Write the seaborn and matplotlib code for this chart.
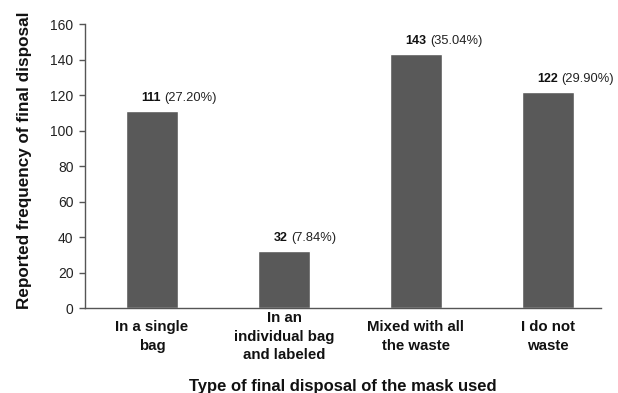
import matplotlib
matplotlib.use("Agg")
import matplotlib.pyplot as plt
import seaborn as sns
import pandas as pd
from matplotlib import font_manager

categories = ["In a single\nbag", "In an\nindividual bag\nand labeled",
              "Mixed with all\nthe waste", "I do not\nwaste"]
counts = [111, 32, 143, 122]
percents = ["27.20%", "7.84%", "35.04%", "29.90%"]
y_ticks = [0, 20, 40, 60, 80, 100, 120, 140, 160]

sns.set_theme(style="white")
names = {f.name for f in font_manager.fontManager.ttflist}
narrow = "Liberation Sans Narrow" if "Liberation Sans Narrow" in names else "Liberation Sans"
plt.rcParams["font.family"] = ["Liberation Sans", "DejaVu Sans"]

df = pd.DataFrame({"category": categories, "count": counts})

fig = plt.figure(figsize=(6.18, 3.93), dpi=100)
ax = fig.add_axes([0.137, 0.216, 0.835, 0.7226])

sns.barplot(data=df, x="category", y="count", color="#595959",
            saturation=1, width=0.395, ax=ax)

ax.set_ylim(0, 160)
ax.set_xlim(-0.51, 3.4)
ax.set_yticks(y_ticks)
ax.set_yticklabels([str(t) for t in y_ticks], fontfamily=narrow, fontsize=10,
                   color="#222222")

for spine in ["top", "right"]:
    ax.spines[spine].set_visible(False)
for spine in ["left", "bottom"]:
    ax.spines[spine].set_color("#555555")
    ax.spines[spine].set_linewidth(1.0)

ax.tick_params(axis="y", which="major", left=True, length=4, width=1,
               color="#555555", pad=4)
ax.tick_params(axis="x", length=0, pad=20.5)
for lbl in ax.get_xticklabels():
    lbl.set_fontweight("bold")
    lbl.set_fontsize(10.8)
    lbl.set_verticalalignment("center")
    lbl.set_linespacing(1.42)
    lbl.set_color("#111111")

ax.set_xlabel("Type of final disposal of the mask used", fontsize=12,
              fontweight="bold", labelpad=12, color="#111111")
ax.set_ylabel("Reported frequency of final disposal", fontsize=12.3,
              fontweight="bold", color="#111111")
ax.yaxis.set_label_coords(-0.102, 0.52)

# value labels: bold count followed by the share in parentheses
for i, (c, p) in enumerate(zip(counts, percents)):
    t = ax.annotate(str(c), xy=(i, c), xytext=(-7.5, 5),
                    textcoords="offset points", ha="left", va="bottom",
                    fontsize=9, fontweight="bold", color="#111111")
    ax.annotate(f"({p})", xy=(1, 0), xycoords=t, xytext=(2.5, 0),
                textcoords="offset points", ha="left", va="bottom",
                fontsize=9.3, fontfamily=narrow, color="#222222")

fig.savefig("out.png", dpi=100, facecolor="white")
